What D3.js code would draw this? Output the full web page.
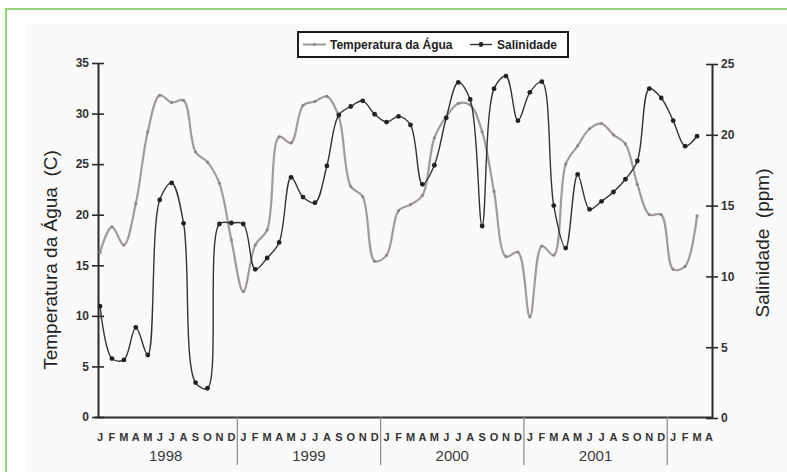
<!DOCTYPE html>
<html><head><meta charset="utf-8">
<script src="https://cdn.jsdelivr.net/npm/d3@7/dist/d3.min.js"></script>
<style>
body{margin:0;background:#fff;}
svg{display:block;font-family:"Liberation Sans",Arial,sans-serif;}
.pre{white-space:pre;}
</style></head>
<body><svg id="c" width="787" height="472"></svg>
<script>
// ---- data ----
const monthLabels = ["J","F","M","A","M","J","J","A","S","O","N","D",
  "J","F","M","A","M","J","J","A","S","O","N","D",
  "J","F","M","A","M","J","J","A","S","O","N","D",
  "J","F","M","A","M","J","J","A","S","O","N","D",
  "J","F","M","A"];
const yearLabels = ["1998","1999","2000","2001"];
const temperatura = [16.3,18.8,17.0,21.1,28.2,31.8,31.1,31.3,26.2,25.2,23.1,17.5,
  12.4,17.0,18.5,27.7,27.1,30.8,31.2,31.7,29.7,22.8,21.8,15.4,
  16.0,20.4,21.0,21.9,27.6,29.7,31.0,30.85,28.2,22.3,15.85,16.3,
  9.9,16.9,16.0,25.0,26.8,28.5,29.0,27.9,27.0,23.0,20.0,20.0,
  14.6,14.9,19.9];
const salinidade = [7.9,4.2,4.1,6.4,4.45,15.4,16.6,13.75,2.5,2.1,13.7,13.77,
  13.7,10.5,11.3,12.4,17.0,15.6,15.2,17.8,21.4,22.0,22.4,21.45,
  20.9,21.3,20.7,16.5,17.85,21.2,23.7,22.5,13.56,23.26,24.15,21.0,
  23.0,23.75,15.0,12.0,17.2,14.74,15.3,15.96,16.86,18.15,23.26,22.6,
  21.0,19.2,19.9];
const leftTicks = [0,5,10,15,20,25,30,35];
const rightTicks = [0,5,10,15,20,25];
const seriesNames = ["Temperatura da Água","Salinidade"];

// ---- layout ----
const svg = d3.select("#c");
const X0 = 98, X1 = 712, Y0 = 417, Y1 = 63;
const idx = monthLabels.map((d,i)=>i);
const x = d3.scalePoint().domain(idx).range([100, 709]);
const yL = d3.scaleLinear().domain([0,35]).range([Y0,Y1]);
const yR = d3.scaleLinear().domain([0,25]).range([Y0+1,Y1+1]);

// frame
svg.append("rect").attr("x",26).attr("y",23).attr("width",800).attr("height",500).attr("fill","#fafafa");
svg.append("rect").attr("x",6).attr("y",9).attr("width",820).attr("height",520)
  .attr("fill","none").attr("stroke","#7cc65a").attr("stroke-width",1.6);

const axisCol = "#2b2b2b";
// left axis
const gL = svg.append("g").attr("transform",`translate(${X0},0)`);
gL.call(d3.axisLeft(yL).tickValues(leftTicks).tickSizeInner(6).tickSizeOuter(0).tickPadding(3));
gL.selectAll(".tick line").attr("x2",-6).attr("x1",6);
// right axis
const gR = svg.append("g").attr("transform",`translate(${X1},0)`);
gR.call(d3.axisRight(yR).tickValues(rightTicks).tickSizeInner(6).tickSizeOuter(0).tickPadding(3));
gR.selectAll(".tick line").attr("x2",6).attr("x1",-6);
[gL,gR].forEach(g=>{
  g.select(".domain").attr("stroke",axisCol).attr("stroke-width",2);
  g.selectAll(".tick line").attr("stroke",axisCol).attr("stroke-width",1.6);
  g.selectAll(".tick text").attr("fill","#333").attr("font-size",12).attr("font-weight","bold")
    .attr("font-family","'Liberation Sans',Arial,sans-serif");
});
// x axis line
svg.append("line").attr("x1",95).attr("x2",X1).attr("y1",Y0+0.5).attr("y2",Y0+0.5)
  .attr("stroke",axisCol).attr("stroke-width",2);

// month labels
svg.append("g").selectAll("text").data(monthLabels).join("text")
  .attr("x",(d,i)=>x(i)).attr("y",441).attr("text-anchor","middle")
  .attr("font-size",11).attr("font-weight","bold").attr("fill","#333").text(d=>d);
// year labels
svg.append("g").selectAll("text").data(yearLabels).join("text")
  .attr("x",(d,i)=>(x(i*12)+x(i*12+11))/2).attr("y",461).attr("text-anchor","middle")
  .attr("font-size",15).attr("fill","#3a3a3a").text(d=>d);
// year dividers
const step = x.step();
svg.append("g").selectAll("line").data(yearLabels).join("line")
  .attr("x1",(d,i)=>x(i*12+11)+step/2).attr("x2",(d,i)=>x(i*12+11)+step/2)
  .attr("y1",Y0).attr("y2",465).attr("stroke","#8a8a8a").attr("stroke-width",1.2);

// axis titles
svg.append("text").attr("class","pre").attr("transform","translate(57,260) rotate(-90)").attr("text-anchor","middle")
  .attr("font-size",19).attr("fill","#222").text("Temperatura da Água  (C)");
svg.append("text").attr("class","pre").attr("transform","translate(769,243) rotate(-90)").attr("text-anchor","middle")
  .attr("font-size",19).attr("fill","#222").text("Salinidade  (ppm)");

// lines
const curve = d3.curveCatmullRom.alpha(0.5);
const tempCol = "#a39b9b", salCol = "#333";
const lineT = d3.line().x((d,i)=>x(i)).y(d=>yL(d)).curve(curve);
const lineS = d3.line().x((d,i)=>x(i)).y(d=>yR(d)).curve(curve);
svg.append("path").datum(temperatura).attr("d",lineT).attr("fill","none")
  .attr("stroke",tempCol).attr("stroke-width",2.2);
svg.append("g").selectAll("circle").data(temperatura).join("circle")
  .attr("cx",(d,i)=>x(i)).attr("cy",d=>yL(d)).attr("r",1.6).attr("fill","#8f8787");
svg.append("path").datum(salinidade).attr("d",lineS).attr("fill","none")
  .attr("stroke",salCol).attr("stroke-width",1.4);
svg.append("g").selectAll("circle").data(salinidade).join("circle")
  .attr("cx",(d,i)=>x(i)).attr("cy",d=>yR(d)).attr("r",2.4).attr("fill","#222");

// legend
const lg = svg.append("g");
lg.append("rect").attr("x",298).attr("y",32).attr("width",270).attr("height",25)
  .attr("fill","#fff").attr("stroke","#1a1a1a").attr("stroke-width",2);
lg.append("line").attr("x1",303).attr("x2",326).attr("y1",44.5).attr("y2",44.5).attr("stroke",tempCol).attr("stroke-width",2);
lg.append("circle").attr("cx",314.5).attr("cy",44.5).attr("r",1.6).attr("fill","#8f8787");
lg.append("text").attr("x",330).attr("y",49).attr("font-size",12).attr("font-weight","bold").attr("fill","#222").text(seriesNames[0]);
lg.append("line").attr("x1",470).attr("x2",492).attr("y1",44.5).attr("y2",44.5).attr("stroke",salCol).attr("stroke-width",1.4);
lg.append("circle").attr("cx",481).attr("cy",44.5).attr("r",2.4).attr("fill","#222");
lg.append("text").attr("x",497).attr("y",49).attr("font-size",12).attr("font-weight","bold").attr("fill","#222").text(seriesNames[1]);
</script></body></html>
